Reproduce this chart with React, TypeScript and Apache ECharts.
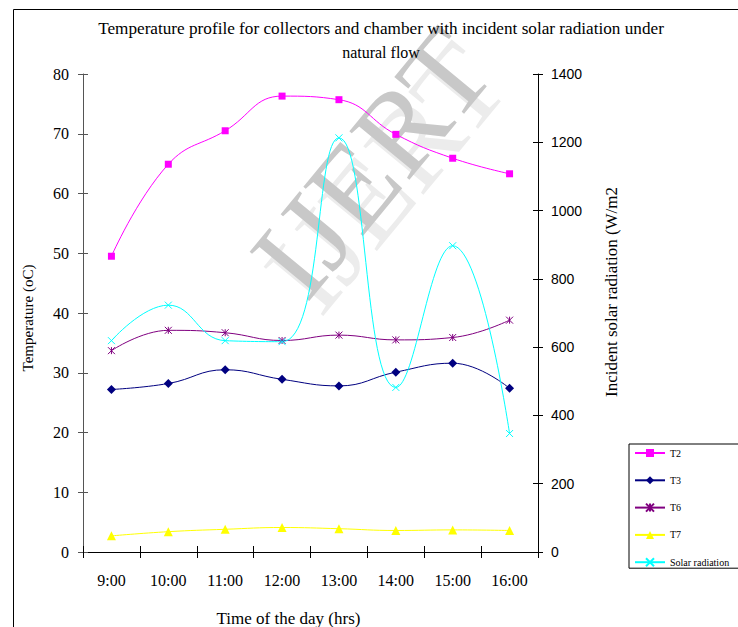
import React, { useEffect, useRef } from "react";
import * as echarts from "echarts";

const hours = ["9:00", "10:00", "11:00", "12:00", "13:00", "14:00", "15:00", "16:00"];
const t2 = [49.5, 64.9, 70.5, 76.3, 75.7, 69.9, 65.9, 63.3];
const t3 = [27.2, 28.2, 30.5, 28.9, 27.8, 30.1, 31.6, 27.4];
const t6 = [33.7, 37.1, 36.7, 35.4, 36.3, 35.5, 35.9, 38.8];
const t7 = [2.7, 3.4, 3.8, 4.1, 3.9, 3.6, 3.7, 3.6];
const solar = [619, 723, 619, 616, 1213, 482, 897, 347];
const seriesNames = ["T2", "T3", "T6", "T7", "Solar radiation"];
const tempAxis = { min: 0, max: 80, interval: 10 };
const radAxis = { min: 0, max: 1400, interval: 200 };

const SERIF = "'Liberation Serif', 'Times New Roman', serif";
const SANS = "'Liberation Sans', Arial, sans-serif";
const STAR = "path://M0,0L10,10M10,0L0,10M5,0L5,10";
const CROSS = "path://M0,0L10,10M10,0L0,10";

export default function App() {
  const ref = useRef<HTMLDivElement>(null);
  useEffect(() => {
    if (!ref.current) return;
    const chart = echarts.init(ref.current, undefined, { renderer: "svg" });
    const mkLine = (name: string, data: number[], color: string, symbol: string, size: number, yIdx: number, stroke = false) => ({
      name,
      type: "line",
      data,
      yAxisIndex: yIdx,
      smooth: 0.45,
      symbol,
      symbolSize: size,
      showSymbol: true,
      z: 3,
      lineStyle: { color, width: 1 },
      itemStyle: stroke
        ? { color, borderColor: color, borderWidth: 1 }
        : { color, borderWidth: 0 },
      emphasis: { disabled: true },
    });
    const yBase = (pos: string, font: string, size: number, margin: number, lineColor: string, range: any) => ({
      type: "value",
      position: pos,
      ...range,
      splitLine: { show: false },
      axisLine: { show: true, lineStyle: { color: lineColor, width: 1 } },
      axisTick: { show: true, inside: false, length: 5, lineStyle: { color: lineColor } },
      axisLabel: { color: "#000", fontFamily: font, fontSize: size, margin, formatter: (v: number) => String(v) },
    });
    const yCopy = (pos: string, lineColor: string, range: any) => ({
      type: "value",
      position: pos,
      ...range,
      splitLine: { show: false },
      axisLine: { show: false },
      axisTick: { show: true, inside: true, length: 5, lineStyle: { color: lineColor } },
      axisLabel: { show: false },
    });
    chart.setOption({
      animation: false,
      backgroundColor: "#fff",
      grid: { left: 83, right: 200, top: 74, bottom: 75, containLabel: false },
      legend: {
        orient: "vertical",
        left: 629,
        top: 444,
        data: seriesNames,
        backgroundColor: "#fff",
        borderColor: "#000",
        borderWidth: 1,
        borderRadius: 0,
        padding: [4, 30, 1, 5],
        itemWidth: 30,
        itemHeight: 10,
        itemGap: 17.3,
        textStyle: { fontFamily: SERIF, fontSize: 10, color: "#000", lineHeight: 10 },
      },
      xAxis: [
        {
          type: "category",
          data: hours,
          boundaryGap: true,
          axisLine: { lineStyle: { color: "#000" } },
          axisTick: { show: true, inside: false, length: 6, alignWithLabel: false, lineStyle: { color: "#000" } },
          axisLabel: { color: "#000", fontFamily: SERIF, fontSize: 16, margin: 20, interval: 0 },
        },
        {
          type: "category",
          data: hours,
          position: "bottom",
          boundaryGap: true,
          axisLine: { show: false },
          axisTick: { show: true, inside: true, length: 6, lineStyle: { color: "#000" } },
          axisLabel: { show: false },
        },
      ],
      yAxis: [
        yBase("left", SERIF, 16, 14, "#555", tempAxis),
        yBase("right", SANS, 14, 13, "#000", radAxis),
        yCopy("left", "#555", tempAxis),
        yCopy("right", "#000", radAxis),
      ],
      series: [
        mkLine(seriesNames[0], t2, "#FF00FF", "rect", 7, 0),
        mkLine(seriesNames[1], t3, "#000080", "diamond", 9, 0),
        mkLine(seriesNames[2], t6, "#800080", STAR, 7, 0, true),
        mkLine(seriesNames[3], t7, "#FFFF00", "triangle", 9, 0),
        mkLine(seriesNames[4], solar, "#00FFFF", CROSS, 7, 1, true),
      ],
      graphic: [
        {
          type: "rect",
          z: -10,
          silent: true,
          shape: { x: 13.5, y: 9.5, width: 800, height: 700 },
          style: { fill: "none", stroke: "#000", lineWidth: 1 },
        },
        {
          type: "text",
          z: 0,
          silent: true,
          x: 386,
          y: 178,
          rotation: 0.88,
          style: { text: "IJERT", fill: "#ececec", font: `118px ${SERIF}`, textAlign: "center", textVerticalAlign: "middle" },
        },
        {
          type: "text",
          z: 1,
          silent: true,
          x: 372,
          y: 163,
          rotation: 0.88,
          style: { text: "IJERT", fill: "#c8c8c8", font: `118px ${SERIF}`, textAlign: "center", textVerticalAlign: "middle" },
        },
        {
          type: "text",
          z: 5,
          x: 381,
          y: 28,
          style: { text: "Temperature profile for collectors and chamber with incident solar radiation under", fill: "#000", font: `17.2px ${SERIF}`, textAlign: "center", textVerticalAlign: "middle" },
        },
        {
          type: "text",
          z: 5,
          x: 381,
          y: 52,
          style: { text: "natural flow", fill: "#000", font: `16px ${SERIF}`, textAlign: "center", textVerticalAlign: "middle" },
        },
        {
          type: "text",
          z: 5,
          x: 28,
          y: 318,
          rotation: Math.PI / 2,
          style: { text: "Temperature (oC)", fill: "#000", font: `15px ${SERIF}`, textAlign: "center", textVerticalAlign: "middle" },
        },
        {
          type: "text",
          z: 5,
          x: 611.5,
          y: 397,
          rotation: Math.PI / 2,
          style: { text: "Incident solar radiation (W/m2)", fill: "#000", font: `17px ${SERIF}`, textAlign: "left", textVerticalAlign: "middle", width: 212, overflow: "truncate", ellipsis: "" },
        },
        {
          type: "text",
          z: 5,
          x: 288.5,
          y: 618,
          style: { text: "Time of the day (hrs)", fill: "#000", font: `17px ${SERIF}`, textAlign: "center", textVerticalAlign: "middle" },
        },
      ],
    });
    return () => chart.dispose();
  }, []);
  return <div ref={ref} style={{ position: "absolute", left: 0, top: 0, width: 738, height: 627 }} />;
}
